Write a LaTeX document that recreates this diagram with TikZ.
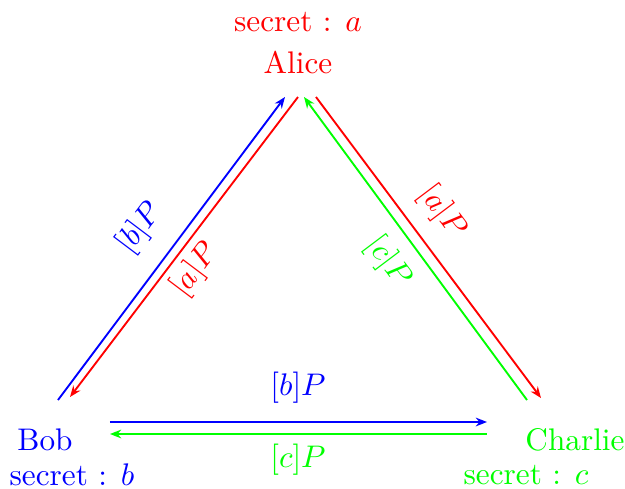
\documentclass[tikz,border=0pt]{standalone}
\usepackage{xcolor}
\usepackage{tikz}
\usetikzlibrary{arrows.meta}
\tikzset{
  party/.style={inner sep=1pt},
  msgarrow/.style={-{Stealth[length=3.6pt,width=2.8pt]}, semithick},
  msglabel/.style={inner sep=1pt},
}
\begin{document}
\begin{tikzpicture}[x=0.32pt, y=-0.32pt]
  \useasboundingbox (0,0) rectangle (625,489);
  % the three parties and their secrets
  \node[party, red] (alicesecret) at (298,22) {secret : $a$};
  \node[party, red] (alice) at (298,62) {Alice};
  \node[party, blue] (bob) at (45,440) {Bob};
  \node[party, blue] (bobsecret) at (72,475) {secret : $b$};
  \node[party, green] (charlie) at (575,440) {Charlie};
  \node[party, green] (charliesecret) at (526,475) {secret : $c$};

  % end points of the messages
  \coordinate (bobtoalice1) at (58,400);
  \coordinate (bobtoalice2) at (285,97);
  \coordinate (alicetobob1) at (298,97);
  \coordinate (alicetobob2) at (70,397);
  \coordinate (charlietoalice1) at (527,400);
  \coordinate (charlietoalice2) at (304,97);
  \coordinate (alicetocharlie1) at (316,97);
  \coordinate (alicetocharlie2) at (541,398);
  \coordinate (bobtocharlie1) at (110,422);
  \coordinate (bobtocharlie2) at (487,422);
  \coordinate (charlietobob1) at (487,434);
  \coordinate (charlietobob2) at (110,434);

  \draw[msgarrow, blue] (bobtoalice1) -- (bobtoalice2);
  \draw[msgarrow, red] (alicetobob1) -- (alicetobob2);
  \draw[msgarrow, green] (charlietoalice1) -- (charlietoalice2);
  \draw[msgarrow, red] (alicetocharlie1) -- (alicetocharlie2);
  \draw[msgarrow, blue] (bobtocharlie1) -- (bobtocharlie2);
  \draw[msgarrow, green] (charlietobob1) -- (charlietobob2);

  % what is sent
  \node[msglabel, blue, rotate=53] (bpleft) at (140,228) {$[b]P$};
  \node[msglabel, red, rotate=53] (apleft) at (195,270) {$[a]P$};
  \node[msglabel, red, rotate=-53] (apright) at (442,212) {$[a]P$};
  \node[msglabel, green, rotate=-53] (cpright) at (388,262) {$[c]P$};
  \node[msglabel, blue] (bpbottom) at (298,388) {$[b]P$};
  \node[msglabel, green] (cpbottom) at (298,460) {$[c]P$};
\end{tikzpicture}
\end{document}
